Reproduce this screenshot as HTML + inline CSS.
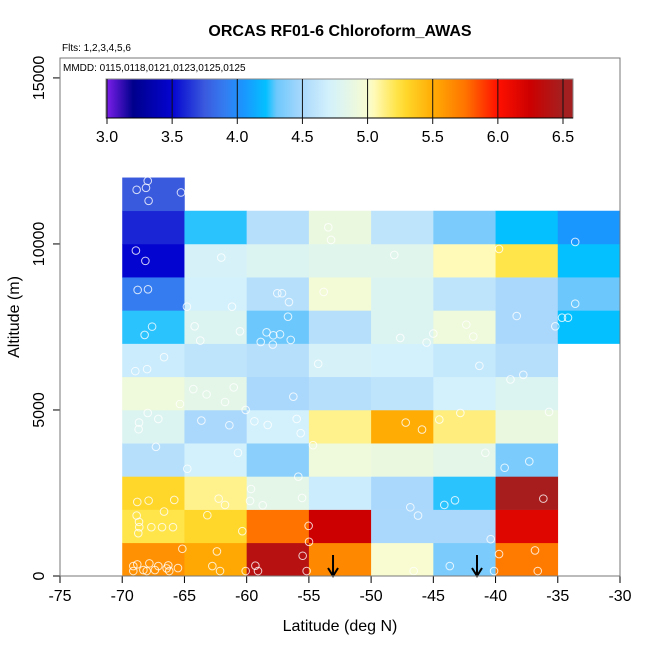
<!DOCTYPE html>
<html><head><meta charset="utf-8"><style>
body{margin:0;background:#fff;}
svg{display:block;font-family:"Liberation Sans",sans-serif;}
</style></head><body>
<svg id="chart" width="650" height="650" xmlns="http://www.w3.org/2000/svg">
<defs>
<linearGradient id="cbgrad" x1="0" x2="1" y1="0" y2="0"></linearGradient>
<clipPath id="plotclip"><rect x="60" y="58" width="560" height="518"/></clipPath>
</defs>
<text x="340" y="36" text-anchor="middle" font-size="16" font-weight="bold">ORCAS RF01-6 Chloroform_AWAS</text>
<text x="62" y="51" font-size="10">Flts: 1,2,3,4,5,6</text>
<text x="63" y="71" font-size="10">MMDD: 0115,0118,0121,0123,0125,0125</text>
<g id="cells" clip-path="url(#plotclip)"></g>
<g id="points" clip-path="url(#plotclip)"></g>
<g id="arrows"></g>
<g id="colorbar"></g>
<g id="axes"></g>
<rect x="60" y="58" width="560" height="518" fill="none" stroke="#777" stroke-width="1"/>
<text x="340" y="631" text-anchor="middle" font-size="16">Latitude (deg N)</text>
<text transform="translate(19,317) rotate(-90)" text-anchor="middle" font-size="16">Altitude (m)</text>
</svg>
<script>
const latBins=[-70,-65,-60,-55,-50,-45,-40,-35];
const altBins=[0,1000,2000,3000,4000,5000,6000,7000,8000,9000,10000,11000];
const cellValues=[
[5.62,5.52,6.38,5.66,5.0,4.35,5.72,null],
[5.22,5.3,5.75,6.25,4.5,4.5,6.15,null],
[5.3,5.12,4.85,4.66,4.5,4.25,6.48,null],
[4.56,4.7,4.4,4.93,4.9,4.85,4.35,null],
[4.78,4.5,4.7,5.12,5.5,5.14,4.9,null],
[4.93,4.85,4.5,4.56,4.6,4.7,4.78,null],
[4.66,4.6,4.56,4.73,4.7,4.63,4.56,null],
[4.25,4.78,4.3,4.56,4.78,4.93,4.5,4.22],
[3.9,4.7,4.56,4.96,4.78,4.6,4.5,4.3],
[3.5,4.73,4.78,4.82,4.82,5.05,5.22,4.22],
[3.6,4.25,4.56,4.9,4.6,4.35,4.22,4.05],
[3.75,null,null,null,null,null,null,null]];
const pointLat=[-68.84,-67.95,-68.09,-67.88,-65.28,-53.44,-53.22,-68.9,-68.14,-62.04,-48.14,-39.72,-68.76,-67.93,-57.54,-57.16,-56.6,-53.81,-64.8,-61.18,-67.6,-68.2,-64.18,-60.54,-63.73,-56.68,-58.4,-57.86,-57.32,-58.87,-57.9,-56.46,-47.66,-45.54,-45.0,-42.35,-41.79,-38.3,-35.2,-34.66,-34.18,-33.6,-33.6,-66.64,-68.95,-68.0,-54.25,-41.3,-37.77,-38.8,
-64.29,-63.22,-61.04,-61.74,-65.36,-56.25,-67.95,-67.1,-68.65,-68.68,-63.64,-61.39,-60.08,-59.38,-58.31,-55.98,-55.66,-47.22,-45.91,-44.52,-42.83,-35.7,-67.29,-60.7,-64.77,-54.67,-55.85,-40.82,-39.27,-37.29,
-68.79,-67.88,-65.82,-62.25,-61.74,-59.65,-59.73,-58.71,-55.55,-46.85,-46.23,-44.12,-43.26,-36.16,-68.84,-68.65,-68.63,-68.71,-67.66,-66.8,-65.92,-66.64,-63.16,-60.35,-55.02,-54.99,-40.39,-65.17,-62.39,-55.5,-39.72,-36.83,
-69.11,-68.79,-67.82,-67.1,-66.3,-65.52,-69.11,-68.3,-68.03,-67.37,-66.43,-66.22,-62.76,-62.14,-60.08,-59.3,-59.09,-55.18,-46.58,-43.68,-40.12,-36.61];
const pointAlt=[11630,11900,11690,11300,11550,10500,10120,9800,9490,9590,9670,9850,8615,8635,8515,8515,8250,8555,8110,8110,7510,7260,7520,7370,7090,7810,7340,7250,7280,7050,6970,7110,7170,7030,7300,7570,7210,7830,7520,7780,7780,8200,10060,6590,6170,6230,6390,6330,6060,5920,
5630,5470,5680,5240,5180,5400,4910,4730,4620,4420,4680,4540,5000,4660,4550,4730,4300,4620,4410,4710,4910,4940,3890,3710,3230,3940,2990,3710,3260,3450,
2230,2270,2290,2330,2140,2620,2260,2130,2350,2070,1820,2140,2280,2330,1820,1630,1470,1290,1470,1470,1470,1940,1830,1350,1510,1030,1110,820,740,610,660,770,
300,350,380,300,320,240,150,180,150,180,230,150,300,150,150,310,150,150,150,300,150,150];
const arrowLat=[-53.06,-41.49];
const xTicks=[-75,-70,-65,-60,-55,-50,-45,-40,-35,-30];
const yTicks=[0,5000,10000,15000];
const cbTicks=[3.0,3.5,4.0,4.5,5.0,5.5,6.0,6.5];
const cmapVals=[3.0,3.2,3.5,3.75,3.9,4.05,4.22,4.3,4.5,4.7,4.85,5.0,5.05,5.22,5.3,5.5,5.75,6.0,6.25,6.5,6.6];
const cmapCols=["#7a1ee8","#00008c","#0404d0","#3a5ade","#347cf0","#1a96ff","#04c0ff","#6cc8fc","#aad8fc","#d2f1fc","#e4f6e8","#f8fcd0","#fffab8","#ffe44a","#ffd62a","#ffac04","#ff7400","#ff1000","#cc0000","#a42020","#a42020"];

const NS="http://www.w3.org/2000/svg";
const X=v=>60+(v+75)*560/45;
const Y=v=>576-v*518/15600;
const CB=v=>107+(v-3)*(563-107)/3.5;
function mk(tag,attrs,parent){const e=document.createElementNS(NS,tag);for(const k in attrs)e.setAttribute(k,attrs[k]);parent.appendChild(e);return e;}
function hex(c){return [1,3,5].map(i=>parseInt(c.substr(i,2),16));}
function color(v){
  for(let i=0;i<cmapVals.length-1;i++){
    if(v<=cmapVals[i+1]){const t=Math.max(0,(v-cmapVals[i])/(cmapVals[i+1]-cmapVals[i]));
      const a=hex(cmapCols[i]),b=hex(cmapCols[i+1]);
      return "rgb("+a.map((x,j)=>Math.round(x+(b[j]-x)*t)).join(",")+")";}
  }
  return cmapCols[cmapCols.length-1];
}
const gCells=document.getElementById('cells');
cellValues.forEach((row,r)=>row.forEach((v,c)=>{
  if(v===null)return;
  const x0=X(latBins[c]),x1=X(latBins[c]+5),y0=Y(altBins[r]+1000),y1=Y(altBins[r]);
  const e=mk('rect',{x:x0,y:y0,width:x1-x0+0.3,height:y1-y0+0.3,fill:color(v)},gCells);
  
  
}));
const gPts=document.getElementById('points');
pointLat.forEach((la,i)=>{
  const e=mk('circle',{cx:X(la),cy:Y(pointAlt[i]),r:3.8,fill:'none',stroke:'rgba(255,255,255,0.8)','stroke-width':1},gPts);
  
  
});
const gArr=document.getElementById('arrows');
arrowLat.forEach(la=>{
  const g=mk('g',{},gArr);
  
  
  const x=X(la);
  mk('line',{x1:x,y1:555,x2:x,y2:575,stroke:'#000','stroke-width':2},g);
  mk('path',{d:`M${x-5},${568} L${x},${576} L${x+5},${568}`,fill:'none',stroke:'#000','stroke-width':2},g);
});
// colorbar
const grad=document.getElementById('cbgrad');
cmapVals.forEach((v,i)=>{mk('stop',{offset:((CB(v)-106)/(573-106)).toFixed(4),'stop-color':cmapCols[i]},grad);});
const gCb=document.getElementById('colorbar');
const cbr=mk('rect',{x:106,y:79,width:467,height:39,fill:'url(#cbgrad)',stroke:'#888','stroke-width':1},gCb);


mk('line',{x1:106,y1:118,x2:573,y2:118,stroke:'#000','stroke-width':1},gCb);
cbTicks.forEach(t=>{
  const x=CB(t);
  mk('line',{x1:x,y1:79,x2:x,y2:124,stroke:'#111','stroke-width':1},gCb);
  const tx=mk('text',{x:x,y:142,'text-anchor':'middle','font-size':16},gCb);
  tx.textContent=t.toFixed(1);
  
  
});
// axes
const gAx=document.getElementById('axes');
mk('line',{x1:60,y1:576,x2:620,y2:576,stroke:'#000','stroke-width':1},gAx);
xTicks.forEach(t=>{
  const x=X(t);
  mk('line',{x1:x,y1:576,x2:x,y2:583,stroke:'#000'},gAx);
  const tx=mk('text',{x:x,y:601,'text-anchor':'middle','font-size':16},gAx);
  tx.textContent=t;
  
  
});
yTicks.forEach(t=>{
  const y=Y(t);
  mk('line',{x1:53,y1:y,x2:60,y2:y,stroke:'#000'},gAx);
  const tx=mk('text',{transform:`translate(44,${y}) rotate(-90)`,'text-anchor':'middle','font-size':16},gAx);
  tx.textContent=t;
  
  
});
</script>
</body></html>
